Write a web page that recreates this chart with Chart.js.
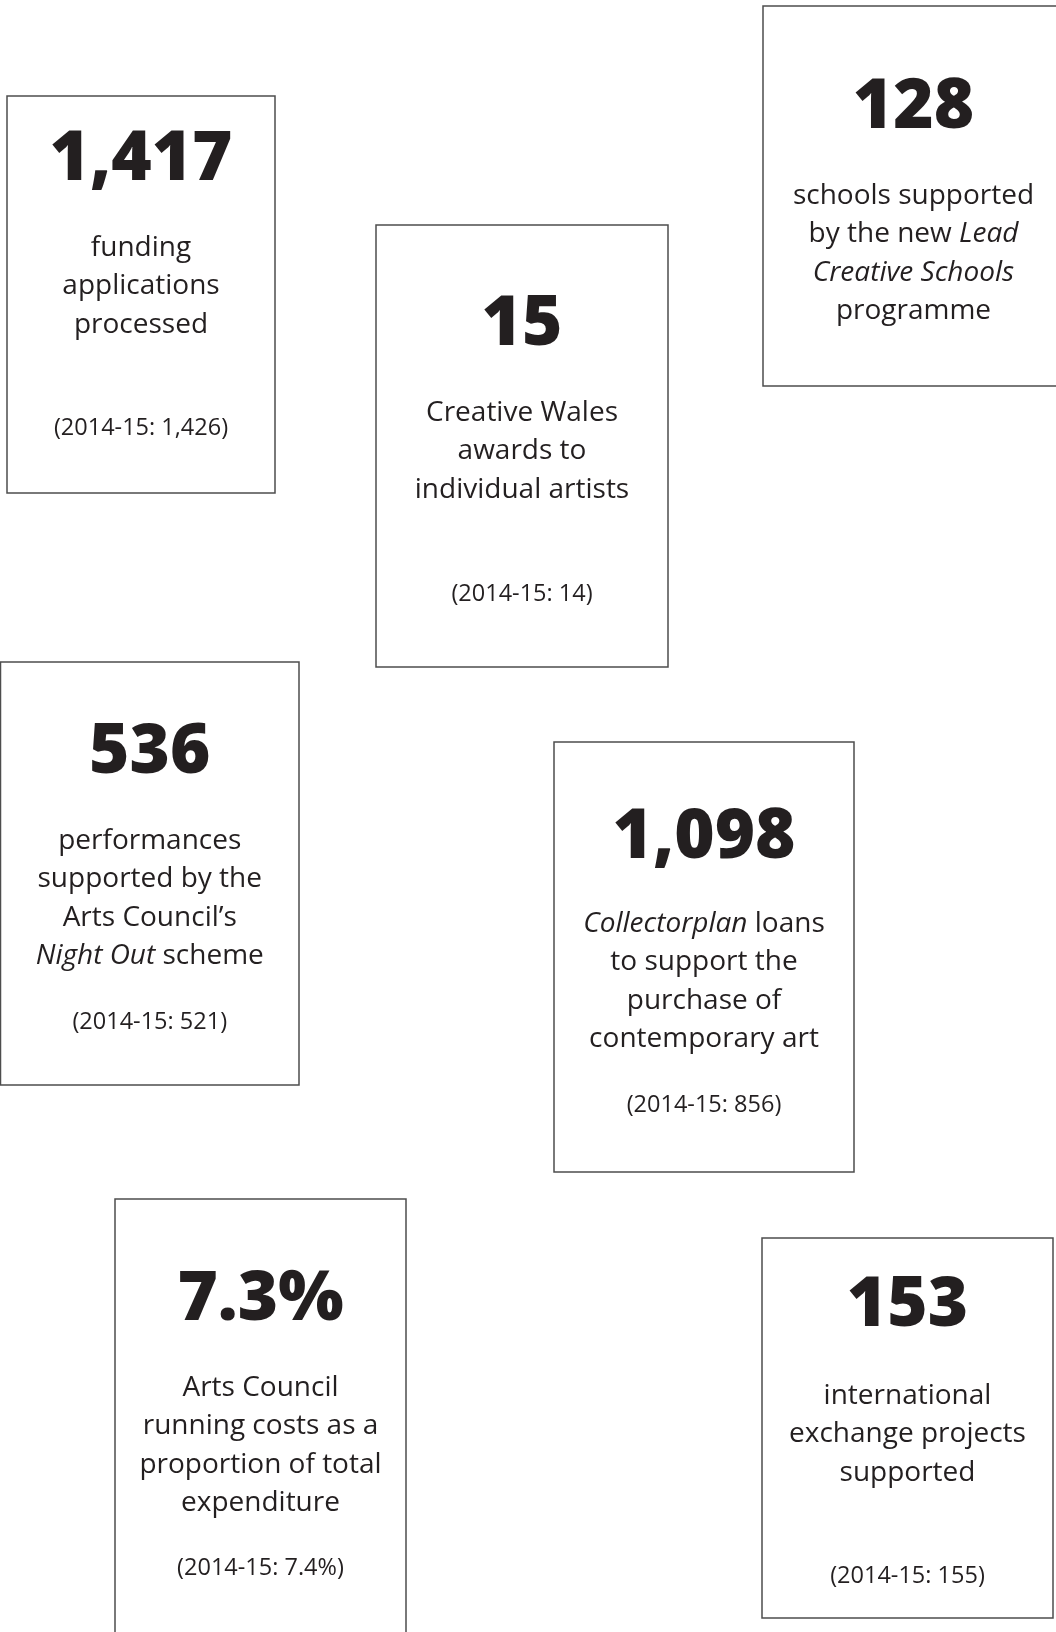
<!DOCTYPE html>
<html lang="en">

<head>
  <meta charset="UTF-8" />
  <title>Key figures 2015-16</title>
  <script src="https://cdn.jsdelivr.net/npm/chart.js"></script>
  <style>
    html, body {
      margin: 0;
      padding: 0;
      background: #ffffff;
    }
    .chart-container {
      width: 1056px;
      height: 1632px;
      position: relative;
    }
  </style>
</head>

<body>
  <div class="chart-container">
    <canvas id="factsChart"></canvas>
  </div>

  <script>
    // Key figures and the previous year's figures (null = no comparison given)
    const figures = [1417, 15, 128, 536, 1098, 7.3, 153];
    const previous = [1426, 14, null, 521, 856, 7.4, 155];
    const units = ['', '', '', '', '', '%', ''];
    const previousLabel = '2014-15';
    // *text* = italic
    const descriptions = [
      ['funding', 'applications', 'processed'],
      ['Creative Wales', 'awards to', 'individual artists'],
      ['schools supported', 'by the new *Lead*', '*Creative Schools*', 'programme'],
      ['performances', 'supported by the', 'Arts Council\u2019s', '*Night Out* scheme'],
      ['*Collectorplan* loans', 'to support the', 'purchase of', 'contemporary art'],
      ['Arts Council', 'running costs as a', 'proportion of total', 'expenditure'],
      ['international', 'exchange projects', 'supported']
    ];

    // Layout of the cards, in page units (x0, y0, x1, y1, baselines)
    const boxes = [
      { x0: 7, y0: 96, x1: 275, y1: 493, num: 180, text: 256, prev: 435 },
      { x0: 376, y0: 225, x1: 668, y1: 667, num: 345, text: 421, prev: 601 },
      { x0: 763, y0: 6, x1: 1064, y1: 386, num: 128, text: 204, prev: null },
      { x0: 0.5, y0: 662, x1: 299, y1: 1085, num: 773, text: 849, prev: 1029 },
      { x0: 554, y0: 742, x1: 854, y1: 1172, num: 858, text: 932, prev: 1112 },
      { x0: 115, y0: 1199, x1: 406, y1: 1640, num: 1320, text: 1396, prev: 1575 },
      { x0: 762, y0: 1238, x1: 1053, y1: 1618, num: 1326, text: 1404, prev: 1583 }
    ];
    const lineGap = 38.3;

    const ink = '#231f20';
    const bodyFont = '"Open Sans", sans-serif';

    function fmt(v) {
      return v.toLocaleString('en-GB');
    }

    function drawRichLine(ctx, line, cx, y, size) {
      const parts = line.split('*').map((t, i) => ({ t: t, italic: i % 2 === 1 })).filter(p => p.t.length);
      const fontFor = p => (p.italic ? 'italic ' : '') + '400 ' + size + 'px ' + bodyFont;
      let total = 0;
      parts.forEach(p => { ctx.font = fontFor(p); p.w = ctx.measureText(p.t).width; total += p.w; });
      let x = cx - total / 2;
      ctx.textAlign = 'left';
      parts.forEach(p => { ctx.font = fontFor(p); ctx.fillText(p.t, x, y); x += p.w; });
    }

    const cardsPlugin = {
      id: 'cards',
      afterDatasetsDraw(chart) {
        const ctx = chart.ctx;
        const xs = chart.scales.x;
        const ys = chart.scales.y;
        ctx.save();
        boxes.forEach((b, i) => {
          const left = xs.getPixelForValue(b.x0);
          const right = xs.getPixelForValue(b.x1);
          const top = ys.getPixelForValue(b.y0);
          const bottom = ys.getPixelForValue(b.y1);
          const cx = (left + right) / 2;

          ctx.strokeStyle = '#4d4d4d';
          ctx.lineWidth = 1.5;
          ctx.strokeRect(left, top, right - left, bottom - top);

          ctx.fillStyle = ink;
          ctx.textBaseline = 'alphabetic';
          ctx.textAlign = 'center';
          ctx.font = '800 69px ' + bodyFont;
          ctx.fillText(fmt(figures[i]) + units[i], cx, ys.getPixelForValue(b.num));

          descriptions[i].forEach((line, j) => {
            drawRichLine(ctx, line, cx, ys.getPixelForValue(b.text + j * lineGap), 28);
          });

          if (previous[i] !== null && b.prev !== null) {
            ctx.textAlign = 'center';
            ctx.font = '400 23.5px ' + bodyFont;
            ctx.fillText('(' + previousLabel + ': ' + fmt(previous[i]) + units[i] + ')', cx, ys.getPixelForValue(b.prev));
          }
        });
        ctx.restore();
      }
    };

    new Chart(document.getElementById('factsChart'), {
      type: 'scatter',
      data: {
        datasets: [{
          label: 'Key figures',
          data: [],
          pointRadius: 0
        }]
      },
      options: {
        responsive: true,
        maintainAspectRatio: false,
        animation: false,
        layout: { padding: 0 },
        plugins: {
          legend: { display: false },
          tooltip: { enabled: false }
        },
        scales: {
          x: { type: 'linear', min: 0, max: 1056, display: false },
          y: { type: 'linear', min: 0, max: 1632, reverse: true, display: false }
        }
      },
      plugins: [cardsPlugin]
    });
  </script>
</body>

</html>
